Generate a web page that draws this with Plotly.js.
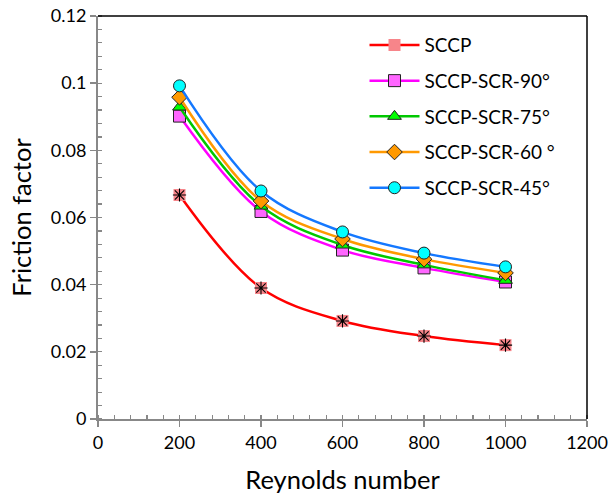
<!DOCTYPE html>
<html>
<head>
<meta charset="utf-8">
<script src="https://cdn.plot.ly/plotly-3.0.1.min.js"></script>
<style>html,body{margin:0;padding:0;background:#fff;}#chart{width:610px;height:501px;}</style>
</head>
<body>
<div id="chart"></div>
<script>
var reynolds = [200, 400, 600, 800, 1000];
var sccp    = [0.0667, 0.0390, 0.0292, 0.0247, 0.0220];
var scr90   = [0.0902, 0.0618, 0.0503, 0.0450, 0.0408];
var scr75   = [0.0929, 0.0634, 0.0518, 0.0459, 0.0413];
var scr60   = [0.0958, 0.0649, 0.0536, 0.0476, 0.0435];
var scr45   = [0.0992, 0.0679, 0.0557, 0.0494, 0.0453];
var names = ['SCCP', 'SCCP-SCR-90°', 'SCCP-SCR-75°', 'SCCP-SCR-60 °', 'SCCP-SCR-45°'];

var FONT = 'Lato, "Open Sans", sans-serif';

function series(y, name, lineColor, symbol, fill, border, grp) {
  return {
    x: reynolds, y: y, name: name, type: 'scatter', mode: 'lines+markers',
    legendgroup: grp,
    line: {color: lineColor, width: 2.5, shape: 'spline', smoothing: 1},
    marker: {symbol: symbol, size: 12, color: fill, line: {color: border, width: border === 'rgba(0,0,0,0)' ? 0 : 1}}
  };
}

var traces = [
  series(sccp, names[0], '#ff0000', 'square', '#f7858a', 'rgba(0,0,0,0)', 'g1'),
  {x: reynolds, y: sccp, type: 'scatter', mode: 'markers', showlegend: false, legendgroup: 'g1', hoverinfo: 'skip',
   marker: {symbol: 'asterisk-open', size: 11, color: '#000', line: {color: '#000', width: 1.1}}},
  series(scr90, names[1], '#ff00ff', 'square', '#ff66ff', '#222', 'g2'),
  series(scr75, names[2], '#00c800', 'triangle-up', '#00ff00', '#222', 'g3'),
  series(scr60, names[3], '#ff9900', 'diamond', '#ff9900', '#222', 'g4'),
  series(scr45, names[4], '#1478ff', 'circle', '#00ffff', '#222', 'g5')
];

var layout = {
  width: 610, height: 501,
  margin: {l: 98, r: 23, t: 16, b: 82},
  paper_bgcolor: '#fff', plot_bgcolor: '#fff',
  font: {family: FONT, color: '#000'},
  showlegend: true,
  legend: {x: 0.545, y: 0.975, xanchor: 'left', yanchor: 'top', traceorder: 'grouped', tracegroupgap: 8,
           font: {family: FONT, size: 19, color: '#000'}, bgcolor: 'rgba(0,0,0,0)', itemwidth: 50},
  xaxis: {
    range: [0, 1200], dtick: 200, tick0: 0,
    showgrid: false, zeroline: false,
    showline: true, linecolor: '#888', linewidth: 2,
    ticks: 'outside', ticklen: 6, tickcolor: '#888', tickwidth: 1.5,
    minor: {dtick: 40, ticks: 'inside', ticklen: 4, tickcolor: '#888', tickwidth: 1.2, showgrid: false},
    tickfont: {family: FONT, size: 18, color: '#000'},
    title: {text: 'Reynolds number', font: {family: FONT, size: 25.5, color: '#000'}, standoff: 20}
  },
  yaxis: {
    range: [0, 0.12], dtick: 0.02, tick0: 0,
    showgrid: false, zeroline: false,
    showline: true, linecolor: '#888', linewidth: 2,
    ticks: 'outside', ticklen: 6, tickcolor: '#888', tickwidth: 1.5,
    minor: {dtick: 0.004, ticks: 'inside', ticklen: 4, tickcolor: '#888', tickwidth: 1.2, showgrid: false},
    tickfont: {family: FONT, size: 18, color: '#000'},
    title: {text: 'Friction factor', font: {family: FONT, size: 25.5, color: '#000'}, standoff: 12}
  },
  shapes: [
    {type: 'line', xref: 'paper', yref: 'paper', x0: 0, x1: 1, y0: 1, y1: 1, line: {color: '#000', width: 1.5}},
    {type: 'line', xref: 'paper', yref: 'paper', x0: 1, x1: 1, y0: 0, y1: 1, line: {color: '#000', width: 1.5}}
  ]
};

Plotly.newPlot('chart', traces, layout, {staticPlot: true, displayModeBar: false});
</script>
</body>
</html>
